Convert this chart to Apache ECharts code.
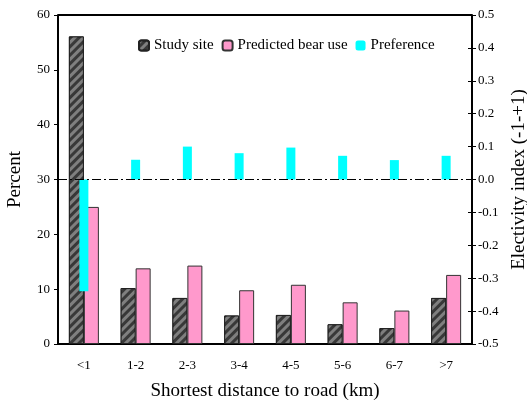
<!DOCTYPE html>
<html><head><meta charset="utf-8">
<script src="https://cdn.jsdelivr.net/npm/echarts@6/dist/echarts.min.js"></script>
<style>html,body{margin:0;padding:0;background:#fff}#c{width:527px;height:404px}</style>
</head><body><div id="c"></div>
<script>
var categories = ['<1','1-2','2-3','3-4','4-5','5-6','6-7','>7'];
var studySite = [56.1, 10.2, 8.4, 5.2, 5.3, 3.6, 2.9, 8.4];
var predictedBearUse = [25.0, 13.8, 14.3, 9.8, 10.8, 7.6, 6.1, 12.6];
var preference = [-0.34, 0.06, 0.10, 0.08, 0.097, 0.072, 0.059, 0.072];
var leftTicks = [0, 60, 10];
var rightTicks = [-0.5, 0.5, 0.1];

var font = 'Liberation Serif';
var chart = echarts.init(document.getElementById('c'));
chart.setOption({
  animation: false,
  aria: {enabled: false},
  grid: {left: 58, right: 55, top: 15, bottom: 60, containLabel: false, outerBoundsMode: 'none'},
  legend: {
    top: 33, left: 133, itemWidth: 10, itemHeight: 10, itemGap: 8,
    textStyle: {fontFamily: font, fontSize: 15, color: '#000'},
    data: [
      {name: 'Study site'},
      {name: 'Predicted bear use'},
      {name: 'Preference', itemStyle: {borderWidth: 0}}
    ]
  },
  xAxis: [{
    type: 'category', data: categories,
    axisLine: {lineStyle: {color: '#000', width: 2}},
    axisTick: {inside: true, length: 4, lineStyle: {color: '#000'}},
    axisLabel: {fontFamily: font, fontSize: 13, color: '#000', margin: 15},
    name: 'Shortest distance to road (km)', nameLocation: 'middle', nameGap: 38,
    nameTextStyle: {fontFamily: font, fontSize: 19, color: '#000'}
  }, {
    type: 'category', data: categories, show: false
  }],
  yAxis: [{
    type: 'value', min: leftTicks[0], max: leftTicks[1], interval: leftTicks[2],
    axisLine: {show: true, lineStyle: {color: '#000', width: 2}},
    axisTick: {show: true, length: 4, lineStyle: {color: '#000'}},
    splitLine: {show: false},
    axisLabel: {fontFamily: font, fontSize: 13, color: '#000', margin: 8},
    name: 'Percent', nameLocation: 'middle', nameGap: 33,
    nameTextStyle: {fontFamily: font, fontSize: 19, color: '#000'}
  }, {
    type: 'value', min: rightTicks[0], max: rightTicks[1], interval: rightTicks[2],
    position: 'right',
    axisLine: {show: true, lineStyle: {color: '#000', width: 2}},
    axisTick: {show: true, length: 4, lineStyle: {color: '#000'}},
    splitLine: {show: false},
    axisLabel: {fontFamily: font, fontSize: 13, color: '#000', margin: 6,
      formatter: function (v) { return v.toFixed(1); }},
    name: 'Electivity index (-1-+1)', nameLocation: 'middle', nameGap: 34,
    nameRotate: 90,
    nameTextStyle: {fontFamily: font, fontSize: 19, color: '#000'}
  }, {
    type: 'value', min: rightTicks[0], max: rightTicks[1], interval: rightTicks[2],
    position: 'right',
    axisLine: {show: false},
    axisTick: {show: true, inside: true, length: 4, lineStyle: {color: '#000'}},
    splitLine: {show: false}, axisLabel: {show: false}
  }],
  graphic: [{
    type: 'line', shape: {x1: 58, y1: 15, x2: 472, y2: 15},
    style: {stroke: '#000', lineWidth: 2}
  }],
  series: [{
    name: 'Study site', type: 'bar', data: studySite, xAxisIndex: 0, yAxisIndex: 0,
    barWidth: 15, barGap: '0%',
    itemStyle: {
      color: '#383838', borderColor: '#222', borderWidth: 1,
      decal: {symbol: 'rect', color: 'rgba(140,140,140,0.85)', dashArrayX: [[1, 0]],
        dashArrayY: [3, 3], rotation: -Math.PI / 4, symbolSize: 1}
    }
  }, {
    name: 'Predicted bear use', type: 'bar', data: predictedBearUse, xAxisIndex: 0, yAxisIndex: 0,
    barWidth: 15, barGap: '0%',
    itemStyle: {color: '#ff99cc', borderColor: '#333', borderWidth: 1}
  }, {
    name: 'Preference', type: 'bar', data: preference, xAxisIndex: 1, yAxisIndex: 1,
    barWidth: 9, z: 3,
    itemStyle: {color: '#00ffff'},
    markLine: {
      silent: true, symbol: 'none', label: {show: false},
      lineStyle: {color: '#000', width: 1, type: [9, 3, 2, 3]},
      data: [{yAxis: 0}]
    }
  }]
});
</script></body></html>
